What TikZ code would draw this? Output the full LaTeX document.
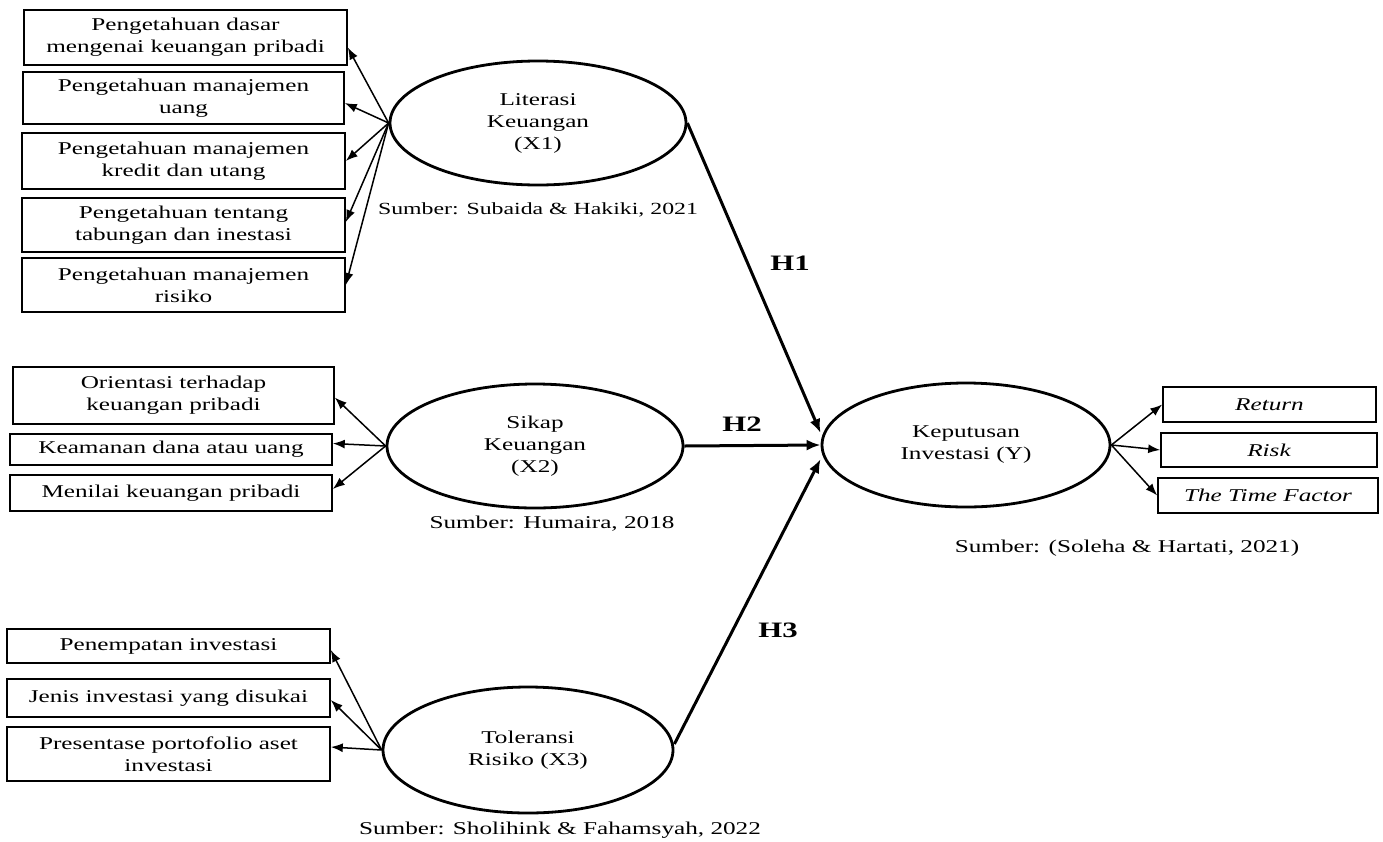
\documentclass[tikz,border=0pt]{standalone}
\usepackage{fontspec}
\setmainfont[FakeStretch=1.4]{Liberation Serif}
\usetikzlibrary{shapes.geometric,arrows.meta}
\begin{document}
\begin{tikzpicture}[x=1pt,y=-1pt,
  ind/.style={draw,line width=1.6pt,inner sep=0pt,align=center,font=\fontsize{18}{22}\selectfont},
  lat/.style={draw,ellipse,line width=2.8pt,inner sep=0pt,align=center,font=\fontsize{18}{22}\selectfont},
  src/.style={inner sep=0pt,font=\fontsize{18}{22}\selectfont},
  hyp/.style={inner sep=0pt,font=\bfseries\fontsize{22}{26}\selectfont},
  thinarr/.style={line width=1.5pt,-{Latex[length=12pt,width=9pt]}},
  thickarr/.style={line width=3pt,-{Latex[length=14pt,width=11pt]}}]
\useasboundingbox (0,0) rectangle (1383,841);

% indicator boxes X1
\node[ind,minimum width=323pt,minimum height=55pt] (a1) at (185.5,37.5) {Pengetahuan dasar\\mengenai keuangan pribadi};
\node[ind,minimum width=321pt,minimum height=52pt] (a2) at (183.5,98) {Pengetahuan manajemen\\uang};
\node[ind,minimum width=323pt,minimum height=56pt] (a3) at (183.5,161) {Pengetahuan manajemen\\kredit dan utang};
\node[ind,minimum width=323pt,minimum height=54pt] (a4) at (183.5,225) {Pengetahuan tentang\\tabungan dan inestasi};
\node[ind,minimum width=323pt,minimum height=54pt] (a5) at (183.5,285) {Pengetahuan manajemen\\risiko};

% indicator boxes X2
\node[ind,minimum width=321pt,minimum height=57pt] (b1) at (173.5,395.5) {Orientasi terhadap\\keuangan pribadi};
\node[ind,minimum width=322pt,minimum height=31pt] (b2) at (171,449.5) {Keamanan dana atau uang};
\node[ind,minimum width=322pt,minimum height=36pt] (b3) at (171,493) {Menilai keuangan pribadi};

% indicator boxes X3
\node[ind,minimum width=323pt,minimum height=34pt] (c1) at (168.5,646) {Penempatan investasi};
\node[ind,minimum width=323pt,minimum height=38pt] (c2) at (168.5,698) {Jenis investasi yang disukai};
\node[ind,minimum width=323pt,minimum height=54pt] (c3) at (168.5,754) {Presentase portofolio aset\\investasi};

% indicator boxes Y
\node[ind,minimum width=213pt,minimum height=35pt] (d1) at (1269.5,404.5) {\itshape Return};
\node[ind,minimum width=216pt,minimum height=34pt] (d2) at (1269,450) {\itshape Risk};
\node[ind,minimum width=220pt,minimum height=35pt] (d3) at (1268,495.5) {\itshape The Time Factor};

% latent variables
\node[lat,minimum width=296pt,minimum height=124pt] (X1) at (538,123) {Literasi\\Keuangan\\(X1)};
\node[lat,minimum width=296pt,minimum height=124pt] (X2) at (535,446) {Sikap\\Keuangan\\(X2)};
\node[lat,minimum width=290pt,minimum height=126pt] (X3) at (528,750) {Toleransi\\Risiko (X3)};
\node[lat,minimum width=288pt,minimum height=124pt] (Y) at (966,445) {Keputusan\\Investasi (Y)};

% sources
\node[src,font=\fontsize{17}{21}\selectfont] (s1) at (538,210) {Sumber: Subaida \& Hakiki, 2021};
\node[src] (s2) at (552,524) {Sumber: Humaira, 2018};
\node[src] (s3) at (1127,548) {Sumber: (Soleha \& Hartati, 2021)};
\node[src] (s4) at (560,830) {Sumber: Sholihink \& Fahamsyah, 2022};

% hypotheses labels
\node[hyp] (h1) at (790,263) {H1};
\node[hyp] (h2) at (742,424) {H2};
\node[hyp] (h3) at (778,630) {H3};

% thin indicator arrows
\draw[thinarr] (X1.west) -- ([yshift=-10pt]a1.east);
\draw[thinarr] (X1.west) -- ([yshift=-5pt]a2.east);
\draw[thinarr] (X1.west) -- (a3.east);
\draw[thinarr] (X1.west) -- ([yshift=3pt]a4.east);
\draw[thinarr] (X1.west) -- (a5.east);

\draw[thinarr] (X2.west) -- ([yshift=-2pt]b1.east);
\draw[thinarr] (X2.west) -- ([yshift=6pt]b2.east);
\draw[thinarr] (X2.west) -- ([yshift=4pt]b3.east);

\draw[thinarr] (X3.west) -- ([yshift=-4pt]c1.east);
\draw[thinarr] (X3.west) -- ([yshift=-2pt]c2.east);
\draw[thinarr] (X3.west) -- ([yshift=7pt]c3.east);

\draw[thinarr] (Y.east) -- (d1.west);
\draw[thinarr] (Y.east) -- (d2.west);
\draw[thinarr] (Y.east) -- (d3.west);

% structural arrows
\draw[thickarr] (X1.east) -- ([yshift=12pt]Y.west);
\draw[thickarr] (X2.east) -- (Y.west);
\draw[thickarr] ([yshift=6pt]X3.east) -- ([yshift=-14pt]Y.west);
\end{tikzpicture}
\end{document}
